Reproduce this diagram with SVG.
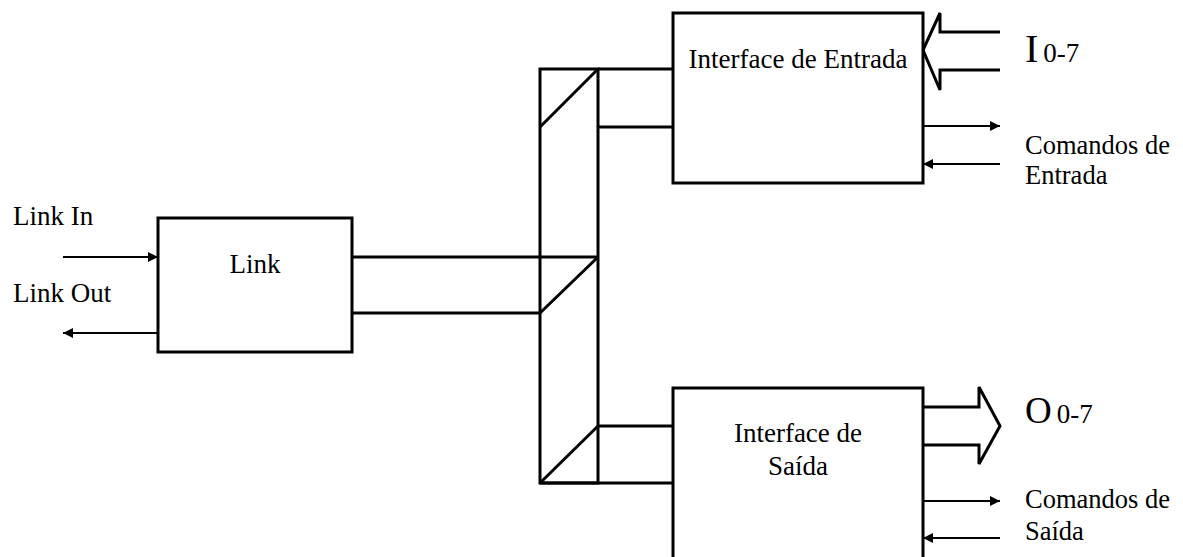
<svg xmlns="http://www.w3.org/2000/svg" width="1183" height="557" viewBox="0 0 1183 557">
  <style>
    .box { fill: #ffffff; stroke: #000; stroke-width: 3; }
    .bus { fill: none; stroke: #000; stroke-width: 3; stroke-linejoin: miter; }
    .wire { fill: none; stroke: #000; stroke-width: 2; }
    .lbl { font-family: "Liberation Serif", "Times New Roman", serif; font-size: 27px; fill: #000; }
    .cmd { font-size: 26.5px; }
    .mid { text-anchor: middle; }
  </style>
  <defs>
    <marker id="tip" viewBox="0 0 10 10" refX="10" refY="5" markerWidth="12" markerHeight="10" markerUnits="userSpaceOnUse" orient="auto">
      <path d="M0,0 L10,5 L0,10 Z" fill="#000"/>
    </marker>
  </defs>

  <rect width="1183" height="557" fill="#ffffff"/>

  <!-- internal bus joining the link to both interfaces -->
  <g id="connectors">
    <!-- vertical trunk -->
    <rect class="bus" x="540" y="69" width="58" height="414"/>
    <!-- stub from the link block -->
    <path class="bus" d="M352,257 H598 M352,313 H540"/>
    <line class="bus" x1="598" y1="257" x2="540" y2="313"/>
    <!-- stub to the input interface -->
    <path class="bus" d="M598,69 H673 M598,127 H673"/>
    <line class="bus" x1="598" y1="69" x2="540" y2="127"/>
    <!-- stub to the output interface -->
    <path class="bus" d="M598,426 H673 M540,483 H673"/>
    <line class="bus" x1="598" y1="426" x2="540" y2="483"/>

    <!-- serial link lines -->
    <line class="wire" x1="63" y1="257" x2="158" y2="257" marker-end="url(#tip)"/>
    <line class="wire" x1="158" y1="333" x2="63" y2="333" marker-end="url(#tip)"/>

    <!-- input command lines -->
    <line class="wire" x1="923" y1="126" x2="1000" y2="126" marker-end="url(#tip)"/>
    <line class="wire" x1="1000" y1="164" x2="923" y2="164" marker-end="url(#tip)"/>

    <!-- output command lines -->
    <line class="wire" x1="923" y1="501" x2="1000" y2="501" marker-end="url(#tip)"/>
    <line class="wire" x1="1000" y1="538" x2="923" y2="538" marker-end="url(#tip)"/>

    <!-- wide input arrow I 0-7 -->
    <path class="bus" d="M1000,32 H940 V13 L923,50 L940,90 V70 H1000"/>
    <!-- wide output arrow O 0-7 -->
    <path class="bus" d="M923,407 H979 V387 L1000,426 L979,464 V445 H923"/>
  </g>

  <g id="link">
    <rect class="box" x="158" y="218" width="194" height="134"/>
    <text class="lbl mid" x="255" y="273">Link</text>
  </g>

  <g id="interface-entrada">
    <rect class="box" x="673" y="13" width="250" height="170"/>
    <text class="lbl mid" x="798" y="68">Interface de Entrada</text>
  </g>

  <g id="interface-saida">
    <rect class="box" x="673" y="388" width="250" height="175"/>
    <text class="lbl mid" x="798" y="442">Interface de</text>
    <text class="lbl mid" x="798" y="475">Saída</text>
  </g>

  <g id="labels">
    <text class="lbl" x="13" y="225">Link In</text>
    <text class="lbl" x="13" y="302">Link Out</text>
    <text class="lbl" x="1025" y="62"><tspan font-size="40">I</tspan><tspan dx="5">0-7</tspan></text>
    <text class="lbl cmd" x="1025" y="154">Comandos de</text>
    <text class="lbl cmd" x="1025" y="184">Entrada</text>
    <text class="lbl" x="1025" y="423"><tspan font-size="37">O</tspan><tspan dx="5">0-7</tspan></text>
    <text class="lbl cmd" x="1025" y="508">Comandos de</text>
    <text class="lbl cmd" x="1025" y="540">Saída</text>
  </g>
</svg>
